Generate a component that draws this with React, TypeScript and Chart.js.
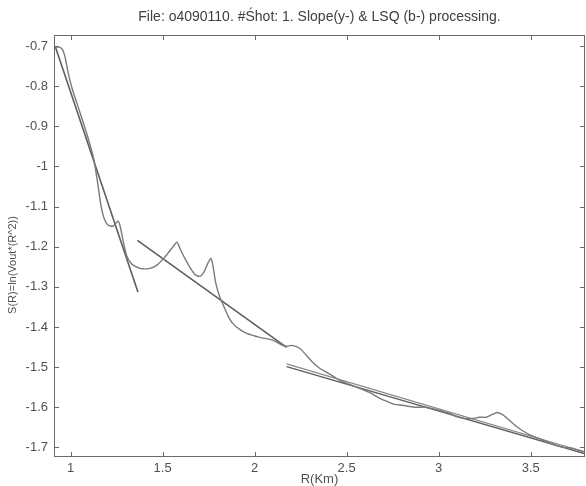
import React, { useEffect, useRef } from "react";
import { Chart, registerables } from "chart.js";

Chart.register(...registerables);

const titleText = "File: o4090110. #Śhot: 1. Slope(y-) & LSQ (b-) processing.";
const xAxisLabel = "R(Km)";
const yAxisLabel = "S(R)=ln(Vout*(R^2))";

const signalR = [
  0.911, 0.932, 0.954, 0.970, 0.986, 1.008, 1.052, 1.095, 1.127, 1.149, 1.165, 1.182, 1.203, 1.231,
  1.247, 1.258, 1.268, 1.285, 1.306, 1.334, 1.377, 1.431, 1.469, 1.512, 1.550, 1.578, 1.599, 1.621,
  1.648, 1.675, 1.702, 1.724, 1.746, 1.762, 1.773, 1.789, 1.811, 1.832, 1.854, 1.881, 1.919, 1.957,
  2.028, 2.098, 2.152, 2.174, 2.201, 2.244, 2.282, 2.315, 2.353, 2.391, 2.434, 2.462, 2.543, 2.624,
  2.679, 2.716, 2.760, 2.803, 2.868, 2.933, 2.977, 3.020, 3.058, 3.096, 3.139, 3.183, 3.221, 3.259,
  3.291, 3.318, 3.345, 3.373, 3.410, 3.438, 3.492, 3.546, 3.600, 3.638, 3.682, 3.725, 3.763, 3.796,
];
const signalS = [
  -0.705, -0.702, -0.707, -0.727, -0.765, -0.805, -0.867, -0.929, -0.984, -1.047, -1.097, -1.129, -1.146, -1.149,
  -1.141, -1.136, -1.146, -1.184, -1.224, -1.244, -1.254, -1.254, -1.246, -1.226, -1.204, -1.189, -1.209, -1.229,
  -1.251, -1.269, -1.274, -1.264, -1.241, -1.229, -1.246, -1.291, -1.326, -1.348, -1.371, -1.391, -1.406, -1.416,
  -1.426, -1.433, -1.446, -1.448, -1.446, -1.453, -1.471, -1.488, -1.503, -1.513, -1.525, -1.533, -1.548, -1.563,
  -1.578, -1.585, -1.593, -1.595, -1.600, -1.600, -1.605, -1.610, -1.615, -1.623, -1.628, -1.628, -1.625, -1.625,
  -1.618, -1.613, -1.618, -1.628, -1.643, -1.653, -1.668, -1.678, -1.688, -1.695, -1.700, -1.702, -1.707, -1.712,
];

const fit1R = [0.916, 1.366];
const fit1S = [-0.7, -1.313];
const fit2R = [1.363, 2.174];
const fit2S = [-1.184, -1.451];
const fit3aR = [2.174, 3.796];
const fit3aS = [-1.492, -1.712];
const fit3bR = [2.174, 3.796];
const fit3bS = [-1.499, -1.716];

const xTicks = [1, 1.5, 2, 2.5, 3, 3.5];
const xTickLabels = ["1", "1.5", "2", "2.5", "3", "3.5"];
const yTicks = [-0.7, -0.8, -0.9, -1, -1.1, -1.2, -1.3, -1.4, -1.5, -1.6, -1.7];
const yTickLabels = ["-0.7", "-0.8", "-0.9", "-1", "-1.1", "-1.2", "-1.3", "-1.4", "-1.5", "-1.6", "-1.7"];
const xMin = 0.91;
const xMax = 3.795;
const yMin = -1.724;
const yMax = -0.6725;

const FONT = "'Liberation Sans', Arial, Helvetica, sans-serif";

const toPts = (xs: number[], ys: number[]) => xs.map((x, i) => ({ x, y: ys[i] }));

const framePlugin = {
  id: "frameTicks",
  afterDraw(chart: any) {
    const { ctx, chartArea: a, scales } = chart;
    ctx.save();
    ctx.strokeStyle = "#6a6a6a";
    ctx.lineWidth = 1;
    ctx.strokeRect(a.left + 0.5, a.top + 0.5, a.right - a.left - 1, a.bottom - a.top - 1);
    const L = 5;
    ctx.beginPath();
    for (const v of xTicks) {
      const px = Math.round(scales.x.getPixelForValue(v)) + 0.5;
      ctx.moveTo(px, a.bottom);
      ctx.lineTo(px, a.bottom - L);
      ctx.moveTo(px, a.top);
      ctx.lineTo(px, a.top + L);
    }
    for (const v of yTicks) {
      const py = Math.round(scales.y.getPixelForValue(v)) + 0.5;
      ctx.moveTo(a.left, py);
      ctx.lineTo(a.left + L, py);
      ctx.moveTo(a.right, py);
      ctx.lineTo(a.right - L, py);
    }
    ctx.stroke();
    // title, centred over the plot area
    ctx.fillStyle = "#404040";
    ctx.font = `14px ${FONT}`;
    ctx.textAlign = "center";
    ctx.textBaseline = "middle";
    ctx.fillText(titleText, (a.left + a.right) / 2, 17);
    // rotated y-axis label
    ctx.fillStyle = "#505050";
    ctx.font = `11px ${FONT}`;
    ctx.translate(13, 265);
    ctx.rotate(-Math.PI / 2);
    ctx.fillText(yAxisLabel, 0, 0);
    ctx.restore();
  },
};

export default function App() {
  const ref = useRef<HTMLCanvasElement | null>(null);

  useEffect(() => {
    if (!ref.current) return;
    const lineColor = "#7a7a7a";
    const fitColor = "#5e5e5e";
    const chart = new Chart(ref.current, {
      type: "scatter",
      data: {
        datasets: [
          {
            label: "signal",
            data: toPts(signalR, signalS),
            showLine: true,
            borderColor: lineColor,
            borderWidth: 1.4,
            pointRadius: 0,
            tension: 0.2,
          },
          {
            label: "fit1",
            data: toPts(fit1R, fit1S),
            showLine: true,
            borderColor: fitColor,
            borderWidth: 1.6,
            pointRadius: 0,
          },
          {
            label: "fit2",
            data: toPts(fit2R, fit2S),
            showLine: true,
            borderColor: fitColor,
            borderWidth: 1.6,
            pointRadius: 0,
          },
          {
            label: "fit3a",
            data: toPts(fit3aR, fit3aS),
            showLine: true,
            borderColor: "#8a8a8a",
            borderWidth: 1.3,
            pointRadius: 0,
          },
          {
            label: "fit3b",
            data: toPts(fit3bR, fit3bS),
            showLine: true,
            borderColor: fitColor,
            borderWidth: 1.3,
            pointRadius: 0,
          },
        ],
      },
      options: {
        animation: false,
        responsive: true,
        maintainAspectRatio: false,
        layout: { padding: { left: 0, right: 1, top: 35, bottom: 0 } },
        plugins: {
          legend: { display: false },
          tooltip: { enabled: false },
          title: { display: false },
        },
        scales: {
          x: {
            type: "linear",
            min: xMin,
            max: xMax,
            grid: { display: false, drawTicks: false },
            border: { display: false },
            afterBuildTicks: (s: any) => {
              s.ticks = xTicks.map((v) => ({ value: v }));
            },
            afterFit: (s: any) => {
              s.height = 29;
            },
            ticks: {
              padding: 4,
              color: "#505050",
              font: { family: FONT, size: 13 },
              maxRotation: 0,
              autoSkip: false,
              callback: (v: any) => {
                const i = xTicks.indexOf(Number(v));
                return i >= 0 ? xTickLabels[i] : "";
              },
            },
            title: {
              display: true,
              text: xAxisLabel,
              color: "#505050",
              font: { family: FONT, size: 13 },
              padding: { top: 0, bottom: -1 },
            },
          },
          y: {
            type: "linear",
            min: yMin,
            max: yMax,
            grid: { display: false, drawTicks: false },
            border: { display: false },
            afterBuildTicks: (s: any) => {
              s.ticks = yTicks.map((v) => ({ value: v }));
            },
            afterFit: (s: any) => {
              s.width = 54;
            },
            ticks: {
              padding: 6,
              color: "#505050",
              font: { family: FONT, size: 13 },
              autoSkip: false,
              callback: (v: any) => {
                const i = yTicks.findIndex((t) => Math.abs(t - Number(v)) < 1e-9);
                return i >= 0 ? yTickLabels[i] : "";
              },
            },
          },
        },
      },
      plugins: [framePlugin],
    } as any);
    return () => chart.destroy();
  }, []);

  return (
    <div style={{ position: "absolute", left: 0, top: 0, width: 586, height: 486, background: "#fff" }}>
      <canvas ref={ref} />
    </div>
  );
}
